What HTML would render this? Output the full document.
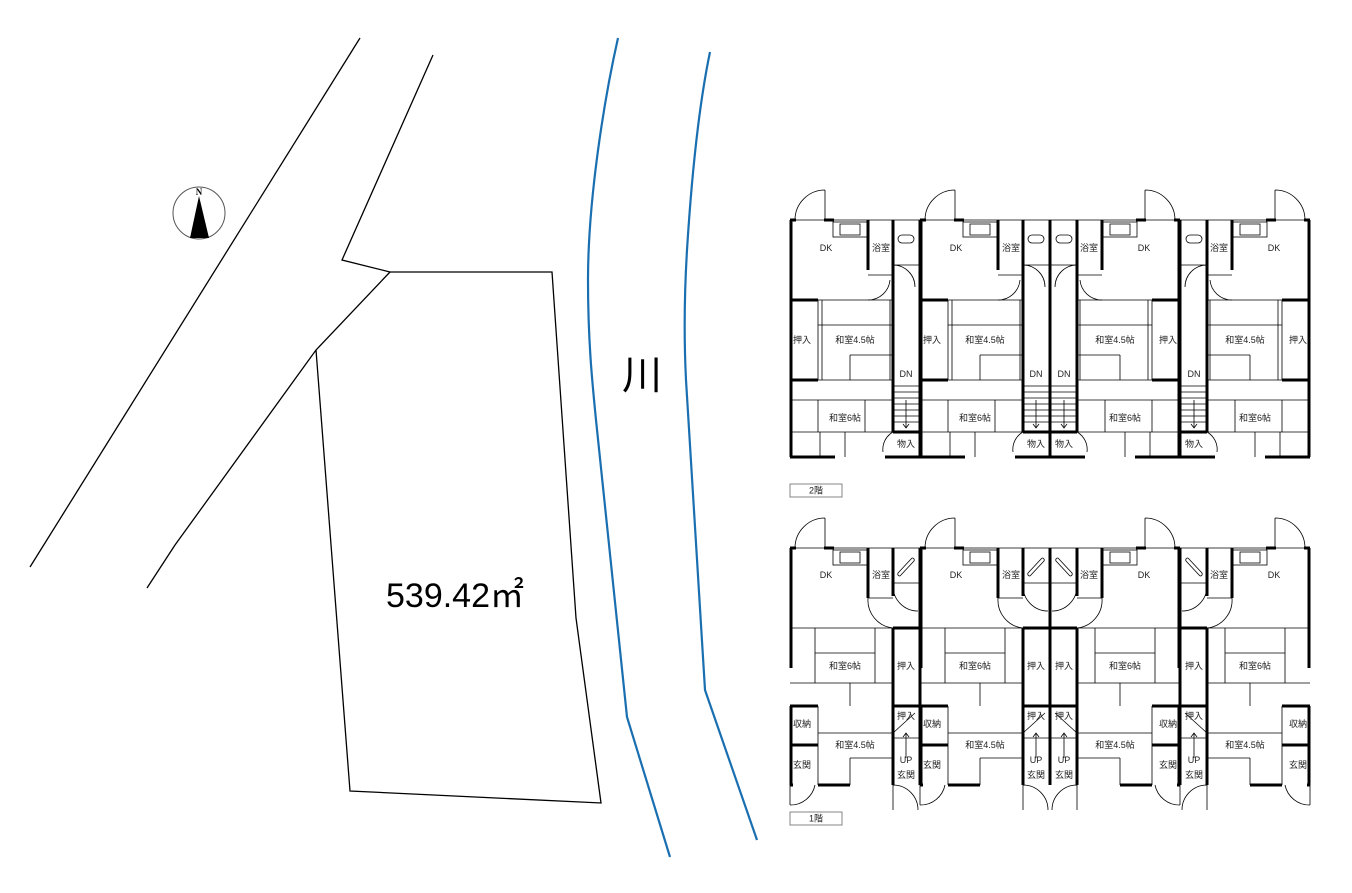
<!DOCTYPE html>
<html><head><meta charset="utf-8"><style>
html,body{margin:0;padding:0;background:#fff;}
svg{display:block;}
text{font-family:"Liberation Sans","Noto Sans CJK JP",sans-serif;}
.t{font-size:9px;text-anchor:middle;dominant-baseline:central;fill:#222;}
</style></head><body>
<svg width="1352" height="893" viewBox="0 0 1352 893" xmlns="http://www.w3.org/2000/svg">
<defs>
<g id="u2">
  <g fill="none" stroke="#000" stroke-width="0.8">
    <path d="M5,0 H130 M35,0 V-30 M5,0 A30,30 0 0 1 35,-30"/>
    <rect x="43" y="2" width="35" height="15"/>
    <rect x="50" y="4" width="20" height="11"/>
    <rect x="108" y="15" width="16" height="8" rx="4"/>
    <path d="M78,55 H103 M103,45 A22,22 0 0 1 125,67 M103,45 H129"/>
    <path d="M78,80 A22,22 0 0 0 100,60"/>
    <path d="M28,80 H103 M28,160 H103 M28,80 V160 M32,80 V160"/>
    <path d="M28,105 H103 M60,135 H103 M60,135 V160 M100,80 V160"/>
    <path d="M0,180 H103 M28,180 V212 M30,212 V237 M75,180 V212"/>
    <path d="M0,212 H103 M55,212 V237 M103,212 A20,20 0 0 0 93,232"/>
    <path d="M103,166 H129 M103,172 H129 M103,178 H129 M103,184 H129 M103,190 H129 M103,196 H129 M103,202 H129 M116,180 V208 M113,204 L116,208 L119,204"/>
  </g>
  <g fill="none" stroke="#000" stroke-width="3">
    <path d="M1,0 V237 M0,0 H6 M34,0 H44 M78,0 V50 M103,0 V212 M130,0 V237 M0,80 H28 M0,160 H28 M103,212 H130 M0,237 H45 M95,237 H130"/>
  </g>
</g>
<g id="u1">
  <g fill="none" stroke="#000" stroke-width="0.8">
    <path d="M5,0 H130 M35,0 V-30 M5,0 A30,30 0 0 1 35,-30"/>
    <rect x="43" y="2" width="35" height="15"/>
    <rect x="50" y="4" width="20" height="11"/>
    <path d="M108,25 L122,10 M110,28 L124,13 M108,25 A2,2 0 0 0 110,28 M122,10 A2,2 0 0 1 124,13"/>
    <path d="M103,35 H129 M103,38 A25,25 0 0 0 128,63"/>
    <path d="M78,50 H103 M78,50 A28,28 0 0 0 103,80"/>
    <path d="M0,80 H103 M25,80 V135 M25,105 H85 M85,80 V135 M0,135 H103 M60,135 V158 M103,90 V150"/>
    <path d="M28,158 V237 M28,185 H103 M60,210 H103 M60,210 V237 M103,185 L125,165 M103,190 H129 M116,210 V185 M113,189 L116,185 L119,189"/>
    <path d="M0,237 V257 M0,257 A25,25 0 0 0 25,237 M103,237 V262 M103,237 A25,25 0 0 1 128,262"/>
  </g>
  <g fill="none" stroke="#000" stroke-width="3">
    <path d="M1,0 V120 M1,158 V237 M0,0 H6 M34,0 H44 M78,0 V50 M103,0 V48 M103,80 V237 M130,0 V237 M103,80 H130 M0,158 H28 M103,158 H130 M0,197 H28 M28,237 H60 M0,237 H3"/>
  </g>
</g>
</defs>

<!-- site map -->
<g fill="none" stroke="#000" stroke-width="1.3">
  <path d="M30,567 L360,38"/>
  <path d="M147,588 L175,545 L316,350 L390,272"/>
  <path d="M433,55 L342,260 L390,272"/>
  <path d="M390,272 L552,272 L576,618 L601,803 L350,791 L316,350"/>
</g>
<text x="455" y="607" style="font-size:34px;text-anchor:middle;">539.42㎡</text>
<circle cx="199" cy="213" r="26" fill="none" stroke="#555" stroke-width="1"/>
<polygon points="199,196 190,238 209,238" fill="#000"/>
<text x="199" y="195" style="font-size:9px;text-anchor:middle;font-family:'Liberation Serif',serif;font-weight:bold;">N</text>
<!-- river -->
<g fill="none" stroke="#1a6fb0" stroke-width="2.2">
  <path d="M618,38 C604,100 588,200 588,280 C588,340 592,380 596,420 L627,717 L670,857"/>
  <path d="M710,52 C700,100 692,170 687,250 C684,300 684,340 686,380 L705,690 L757,840"/>
</g>
<text x="642" y="372" style="font-size:40px;text-anchor:middle;dominant-baseline:central;font-family:'Noto Sans CJK JP',sans-serif;">川</text>

<!-- 2F -->
<use href="#u2" transform="translate(790,220)"/>
<use href="#u2" transform="translate(920,220)"/>
<use href="#u2" transform="translate(1180,220) scale(-1,1)"/>
<use href="#u2" transform="translate(1310,220) scale(-1,1)"/>
<!-- 1F -->
<use href="#u1" transform="translate(790,548)"/>
<use href="#u1" transform="translate(920,548)"/>
<use href="#u1" transform="translate(1180,548) scale(-1,1)"/>
<use href="#u1" transform="translate(1310,548) scale(-1,1)"/>

<rect x="790" y="484" width="52" height="13" fill="none" stroke="#666" stroke-width="0.8"/>
<text class="t" x="816" y="490.5">2階</text>
<rect x="790" y="812" width="52" height="13" fill="none" stroke="#666" stroke-width="0.8"/>
<text class="t" x="816" y="818.5">1階</text>

<g class="lbl">
<text class="t" x="826" y="248">DK</text><text class="t" x="881" y="248">浴室</text><text class="t" x="802" y="340">押入</text><text class="t" x="855" y="340">和室4.5帖</text><text class="t" x="906" y="374">DN</text><text class="t" x="845" y="418">和室6帖</text><text class="t" x="906" y="444">物入</text>
<text class="t" x="956" y="248">DK</text><text class="t" x="1011" y="248">浴室</text><text class="t" x="932" y="340">押入</text><text class="t" x="985" y="340">和室4.5帖</text><text class="t" x="1036" y="374">DN</text><text class="t" x="975" y="418">和室6帖</text><text class="t" x="1036" y="444">物入</text>
<text class="t" x="1144" y="248">DK</text><text class="t" x="1089" y="248">浴室</text><text class="t" x="1168" y="340">押入</text><text class="t" x="1115" y="340">和室4.5帖</text><text class="t" x="1064" y="374">DN</text><text class="t" x="1125" y="418">和室6帖</text><text class="t" x="1064" y="444">物入</text>
<text class="t" x="1274" y="248">DK</text><text class="t" x="1219" y="248">浴室</text><text class="t" x="1298" y="340">押入</text><text class="t" x="1245" y="340">和室4.5帖</text><text class="t" x="1194" y="374">DN</text><text class="t" x="1255" y="418">和室6帖</text><text class="t" x="1194" y="444">物入</text>

<text class="t" x="826" y="575">DK</text><text class="t" x="881" y="575">浴室</text><text class="t" x="845" y="666">和室6帖</text><text class="t" x="906" y="666">押入</text><text class="t" x="802" y="724">収納</text><text class="t" x="855" y="745">和室4.5帖</text><text class="t" x="906" y="716">押入</text><text class="t" x="906" y="760">UP</text><text class="t" x="906" y="775">玄関</text><text class="t" x="802" y="765">玄関</text>
<text class="t" x="956" y="575">DK</text><text class="t" x="1011" y="575">浴室</text><text class="t" x="975" y="666">和室6帖</text><text class="t" x="1036" y="666">押入</text><text class="t" x="932" y="724">収納</text><text class="t" x="985" y="745">和室4.5帖</text><text class="t" x="1036" y="716">押入</text><text class="t" x="1036" y="760">UP</text><text class="t" x="1036" y="775">玄関</text><text class="t" x="932" y="765">玄関</text>
<text class="t" x="1144" y="575">DK</text><text class="t" x="1089" y="575">浴室</text><text class="t" x="1125" y="666">和室6帖</text><text class="t" x="1064" y="666">押入</text><text class="t" x="1168" y="724">収納</text><text class="t" x="1115" y="745">和室4.5帖</text><text class="t" x="1064" y="716">押入</text><text class="t" x="1064" y="760">UP</text><text class="t" x="1064" y="775">玄関</text><text class="t" x="1168" y="765">玄関</text>
<text class="t" x="1274" y="575">DK</text><text class="t" x="1219" y="575">浴室</text><text class="t" x="1255" y="666">和室6帖</text><text class="t" x="1194" y="666">押入</text><text class="t" x="1298" y="724">収納</text><text class="t" x="1245" y="745">和室4.5帖</text><text class="t" x="1194" y="716">押入</text><text class="t" x="1194" y="760">UP</text><text class="t" x="1194" y="775">玄関</text><text class="t" x="1298" y="765">玄関</text>
</g>
</svg>
</body></html>
